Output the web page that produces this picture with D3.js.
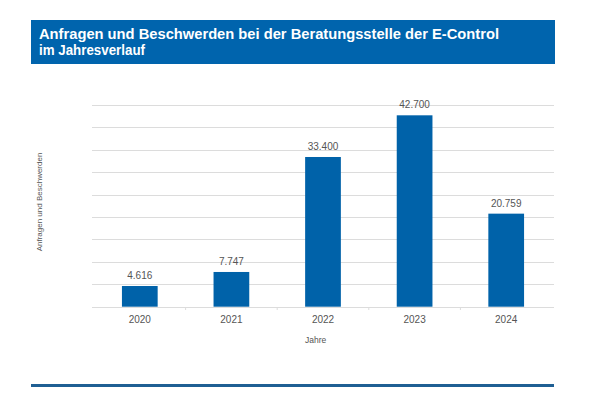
<!DOCTYPE html>
<html>
  <head>
    <meta charset="utf-8">
    <title>Anfragen und Beschwerden</title>
    <script src="https://d3js.org/d3.v7.min.js"></script>
    <style>
      body { margin: 0; background: #fff; }
      .title { font-family: "Liberation Sans", Arial, sans-serif; font-weight: bold; fill: #fff; }
      .grid line { stroke: #dcdcdc; stroke-width: 1; }
      .tick-label, .value-label, .axis-title { font-family: "Liberation Sans", Arial, sans-serif; fill: #555; }
    </style>
  </head>
  <body>
    <svg class="chart" width="600" height="397"></svg>
    <script>
// Data
var years = ["2020", "2021", "2022", "2023", "2024"];
var counts = [4616, 7747, 33400, 42700, 20759];
var valueLabels = ["4.616", "7.747", "33.400", "42.700", "20.759"];
var gridValues = [0, 5000, 10000, 15000, 20000, 25000, 30000, 35000, 40000, 45000];

var svg = d3.select("svg");
var blue = "#0062a9";

// Title banner
svg.append("rect")
    .attr("x", 31).attr("y", 20)
    .attr("width", 524).attr("height", 44)
    .attr("fill", "#0064ad");
// no condensed font available, so squeeze glyphs to the original width
svg.append("text")
    .attr("class", "title")
    .attr("x", 39).attr("y", 38.5)
    .attr("textLength", 460)
    .attr("lengthAdjust", "spacingAndGlyphs")
    .style("font-size", "15px")
    .text("Anfragen und Beschwerden bei der Beratungsstelle der E-Control");
svg.append("text")
    .attr("class", "title")
    .attr("x", 39).attr("y", 55)
    .attr("textLength", 106)
    .attr("lengthAdjust", "spacingAndGlyphs")
    .style("font-size", "15px")
    .text("im Jahresverlauf");

// Scales
var y = d3.scaleLinear()
    .domain([0, 45000])
    .range([306.7, 105]);
var x = d3.scaleBand()
    .domain(years)
    .range([94, 552])
    .paddingInner(0.61)
    .paddingOuter(0.305);

// Gridlines
svg.append("g")
    .attr("class", "grid")
    .selectAll("line")
    .data(gridValues)
    .enter().append("line")
        .attr("x1", 92).attr("x2", 554)
        .attr("y1", function (d) { return Math.round(y(d)) + 0.5; })
        .attr("y2", function (d) { return Math.round(y(d)) + 0.5; });

// small ticks between categories
svg.append("g")
    .attr("class", "grid")
    .selectAll("line")
    .data(years.slice(1))
    .enter().append("line")
        .attr("x1", function (d) { return x(d) - x.step() * 0.305; })
        .attr("x2", function (d) { return x(d) - x.step() * 0.305; })
        .attr("y1", 307).attr("y2", 310);

// Bars
svg.append("g")
    .selectAll("rect")
    .data(counts)
    .enter().append("rect")
        .attr("x", function (d, i) { return x(years[i]); })
        .attr("width", x.bandwidth())
        .attr("y", function (d) { return y(d); })
        .attr("height", function (d) { return y(0) - y(d); })
        .attr("fill", blue);

// Value labels
svg.append("g")
    .selectAll("text")
    .data(counts)
    .enter().append("text")
        .attr("class", "value-label")
        .attr("x", function (d, i) { return x(years[i]) + x.bandwidth() / 2; })
        .attr("y", function (d) { return y(d) - 7; })
        .attr("text-anchor", "middle")
        .style("font-size", "10px")
        .text(function (d, i) { return valueLabels[i]; });

// Category labels
svg.append("g")
    .selectAll("text")
    .data(years)
    .enter().append("text")
        .attr("class", "tick-label")
        .attr("x", function (d) { return x(d) + x.bandwidth() / 2; })
        .attr("y", 323)
        .attr("text-anchor", "middle")
        .style("font-size", "10px")
        .text(function (d) { return d; });

// Axis titles
svg.append("text")
    .attr("class", "axis-title")
    .attr("x", 305).attr("y", 343)
    .style("font-size", "8.5px")
    .text("Jahre");
svg.append("text")
    .attr("class", "axis-title")
    .attr("transform", "translate(42,202) rotate(-90)")
    .attr("text-anchor", "middle")
    .style("font-size", "8px")
    .text("Anfragen und Beschwerden");

// Bottom rule
svg.append("rect")
    .attr("x", 31).attr("y", 384)
    .attr("width", 523).attr("height", 3)
    .attr("fill", "#1f5f93");
</script>
  </body>
</html>
